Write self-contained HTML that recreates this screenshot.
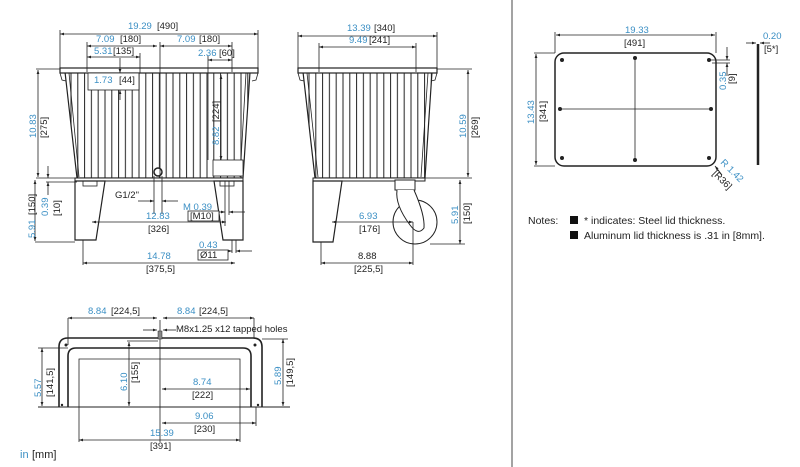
<!DOCTYPE html>
<html><head><meta charset="utf-8"><style>
html,body{margin:0;padding:0;background:#fff}
svg{display:block}
text{font-family:"Liberation Sans",sans-serif;font-size:9.5px;fill:#222}
.b{fill:#3b8fc4}
.l{stroke:#222;stroke-width:.8;fill:none}
.t{stroke:#222;stroke-width:1.6;fill:none}
</style></head><body>
<svg width="800" height="467" viewBox="0 0 800 467" xmlns="http://www.w3.org/2000/svg">
<defs>
<marker id="a" viewBox="0 0 10 10" refX="10" refY="5" markerWidth="7" markerHeight="5" orient="auto-start-reverse"><path d="M0,1.5 L10,5 L0,8.5z" fill="#222"/></marker>
<pattern id="rib" x="0" y="0" width="6.8" height="10" patternUnits="userSpaceOnUse"><line x1="3" y1="0" x2="3" y2="10" stroke="#222" stroke-width="1"/></pattern>
</defs>

<line x1="512" y1="0" x2="512" y2="467" stroke="#666" stroke-width="1.2"/>

<!-- ===== FRONT VIEW ===== -->
<g>
<path d="M65,72 L250,72 L243,178 L77,178 Z" fill="url(#rib)" stroke="#222" stroke-width="1.2"/>
<path d="M69,73 L79,177 M246,73 L240,177" class="l" stroke-width="1.2"/>
<rect x="60" y="68" width="198" height="5" fill="#fff" stroke="#222" stroke-width="1.2"/>
<path d="M60,73 L62,80 L66,81 M258,73 L256,80 L252,81" class="l"/>
<rect x="88" y="73" width="51" height="17" fill="#fff" stroke="#222" stroke-width=".8"/>
<text x="94" y="83" class="b">1.73</text><text x="119" y="83">[44]</text>
<rect x="213" y="160" width="30" height="16" fill="#fff" stroke="#222" stroke-width=".8"/>
<circle cx="158" cy="172" r="4" fill="#fff" stroke="#222" stroke-width="1.5"/>
<path d="M75,178 L243,178 L243,181 L75,181 Z" fill="#fff" stroke="#222" stroke-width="1"/>
<path d="M75,181 L105,181 L96,240 L75,240 Z" fill="#fff" stroke="#222" stroke-width="1.2"/>
<path d="M214,181 L243,181 L243,240 L223,240 Z" fill="#fff" stroke="#222" stroke-width="1.2"/>
<rect x="83" y="181" width="14" height="5" class="l"/><rect x="220" y="181" width="14" height="5" class="l"/>
<line x1="60" y1="34" x2="258" y2="34" class="l" marker-start="url(#a)" marker-end="url(#a)"/>
<line x1="60" y1="30" x2="60" y2="68" class="l"/><line x1="258" y1="30" x2="258" y2="68" class="l"/>
<text x="128" y="29" class="b">19.29</text><text x="157" y="29">[490]</text>
<line x1="87" y1="46" x2="157" y2="46" class="l" marker-start="url(#a)" marker-end="url(#a)"/>
<line x1="160" y1="46" x2="232" y2="46" class="l" marker-start="url(#a)" marker-end="url(#a)"/>
<line x1="87" y1="42" x2="87" y2="72" class="l"/><line x1="160" y1="42" x2="160" y2="178" class="l"/><line x1="232" y1="42" x2="232" y2="72" class="l"/>
<text x="96" y="42" class="b">7.09</text><text x="120" y="42">[180]</text>
<text x="177" y="42" class="b">7.09</text><text x="199" y="42">[180]</text>
<line x1="87" y1="57" x2="140" y2="57" class="l" marker-start="url(#a)" marker-end="url(#a)"/>
<line x1="140" y1="53" x2="140" y2="73" class="l"/>
<text x="94" y="54" class="b">5.31</text><text x="113" y="54">[135]</text>
<line x1="120" y1="58" x2="120" y2="73" class="l" marker-end="url(#a)"/>
<line x1="120" y1="100" x2="120" y2="90" class="l" marker-end="url(#a)"/>
<line x1="208" y1="60" x2="232" y2="60" class="l" marker-start="url(#a)" marker-end="url(#a)"/>
<line x1="208" y1="56" x2="208" y2="160" class="l"/>
<text x="198" y="56" class="b">2.36</text><text x="219" y="56">[60]</text>
<line x1="221" y1="75" x2="221" y2="160" class="l" marker-start="url(#a)" marker-end="url(#a)"/>
<text transform="translate(219,145) rotate(-90)" class="b">8.82</text><text transform="translate(219,122) rotate(-90)">[224]</text>
<line x1="36" y1="69" x2="60" y2="69" class="l"/>
<line x1="36" y1="178" x2="77" y2="178" class="l"/>
<line x1="35" y1="242" x2="75" y2="242" class="l"/>
<line x1="38" y1="70" x2="38" y2="177" class="l" marker-start="url(#a)" marker-end="url(#a)"/>
<text transform="translate(36,138) rotate(-90)" class="b">10.83</text><text transform="translate(47,138) rotate(-90)">[275]</text>
<line x1="35" y1="180" x2="35" y2="241" class="l" marker-start="url(#a)" marker-end="url(#a)"/>
<text transform="translate(35,238) rotate(-90)" class="b">5.91</text><text transform="translate(35,215) rotate(-90)">[150]</text>
<line x1="48" y1="166" x2="48" y2="178" class="l" marker-end="url(#a)"/>
<line x1="48" y1="195" x2="48" y2="182" class="l" marker-end="url(#a)"/>
<line x1="46" y1="182" x2="77" y2="182" class="l"/>
<text transform="translate(48,216) rotate(-90)" class="b">0.39</text><text transform="translate(60,216) rotate(-90)">[10]</text>
<line x1="154" y1="176" x2="154" y2="214" class="l"/><line x1="162" y1="176" x2="162" y2="214" class="l"/>
<line x1="138" y1="201" x2="154" y2="201" class="l" marker-end="url(#a)"/>
<line x1="178" y1="201" x2="162" y2="201" class="l" marker-end="url(#a)"/>
<text x="115" y="198">G1/2"</text>
<line x1="92" y1="222" x2="226" y2="222" class="l" marker-start="url(#a)" marker-end="url(#a)"/>
<text x="146" y="219" class="b">12.83</text><text x="148" y="232">[326]</text>
<line x1="225" y1="181" x2="225" y2="226" class="l"/><line x1="229" y1="181" x2="229" y2="215" class="l"/>
<line x1="215" y1="212" x2="225" y2="212" class="l" marker-end="url(#a)"/>
<line x1="245" y1="212" x2="229" y2="212" class="l" marker-end="url(#a)"/>
<text x="183" y="210" class="b">M 0.39</text>
<rect x="188" y="211" width="31" height="10" fill="#fff" stroke="#222" stroke-width=".8"/><text x="190" y="219">[M10]</text>
<line x1="232" y1="240" x2="232" y2="253" class="l"/><line x1="236" y1="240" x2="236" y2="253" class="l"/>
<line x1="222" y1="251" x2="232" y2="251" class="l" marker-end="url(#a)"/>
<line x1="252" y1="251" x2="236" y2="251" class="l" marker-end="url(#a)"/>
<text x="199" y="248" class="b">0.43</text>
<rect x="198" y="250" width="30" height="10" fill="#fff" stroke="#222" stroke-width=".8"/><text x="200" y="258">Ø11</text>
<line x1="83" y1="240" x2="83" y2="265" class="l"/>
<line x1="83" y1="263" x2="235" y2="263" class="l" marker-start="url(#a)" marker-end="url(#a)"/>
<text x="147" y="259" class="b">14.78</text><text x="146" y="272">[375,5]</text>
</g>

<!-- ===== SIDE VIEW ===== -->
<g>
<path d="M303,72 L432,72 L425,178 L315,178 Z" fill="url(#rib)" stroke="#222" stroke-width="1.2"/>
<path d="M307,73 L318,177 M428,73 L421,177" class="l" stroke-width="1.2"/>
<rect x="298" y="68" width="139" height="5" fill="#fff" stroke="#222" stroke-width="1.2"/>
<path d="M298,73 L300,80 L304,81 M437,73 L435,80 L431,81" class="l"/>
<rect x="313" y="178" width="112" height="3" fill="#fff" stroke="#222" stroke-width="1"/>
<path d="M313,181 L342,181 L333,242 L313,242 Z" fill="#fff" stroke="#222" stroke-width="1.2"/>
<rect x="395" y="180" width="20" height="10" fill="#fff" stroke="#222" stroke-width="1"/>
<circle cx="415" cy="222" r="22" fill="#fff" stroke="#222" stroke-width="1"/>
<path d="M397,190 Q395,205 410,225 Q418,236 424,228 Q425,215 414,190" fill="#fff" stroke="#222" stroke-width="1"/>
<line x1="298" y1="36" x2="437" y2="36" class="l" marker-start="url(#a)" marker-end="url(#a)"/>
<line x1="298" y1="32" x2="298" y2="68" class="l"/><line x1="437" y1="32" x2="437" y2="68" class="l"/>
<text x="347" y="31" class="b">13.39</text><text x="374" y="31">[340]</text>
<line x1="319" y1="47" x2="416" y2="47" class="l" marker-start="url(#a)" marker-end="url(#a)"/>
<line x1="319" y1="43" x2="319" y2="72" class="l"/><line x1="416" y1="43" x2="416" y2="72" class="l"/>
<text x="349" y="43" class="b">9.49</text><text x="369" y="43">[241]</text>
<line x1="437" y1="69" x2="472" y2="69" class="l"/><line x1="425" y1="178" x2="472" y2="178" class="l"/>
<line x1="468" y1="70" x2="468" y2="177" class="l" marker-start="url(#a)" marker-end="url(#a)"/>
<text transform="translate(466,138) rotate(-90)" class="b">10.59</text><text transform="translate(478,138) rotate(-90)">[269]</text>
<line x1="460" y1="180" x2="460" y2="244" class="l" marker-start="url(#a)" marker-end="url(#a)"/>
<line x1="430" y1="244" x2="465" y2="244" class="l"/>
<text transform="translate(458,224) rotate(-90)" class="b">5.91</text><text transform="translate(470,224) rotate(-90)">[150]</text>
<line x1="332" y1="222" x2="413" y2="222" class="l" marker-start="url(#a)" marker-end="url(#a)"/>
<text x="359" y="219" class="b">6.93</text><text x="359" y="232">[176]</text>
<line x1="321" y1="242" x2="321" y2="265" class="l"/><line x1="413" y1="222" x2="413" y2="265" class="l"/>
<line x1="321" y1="263" x2="413" y2="263" class="l" marker-start="url(#a)" marker-end="url(#a)"/>
<text x="358" y="259" fill="#777">8.88</text><text x="354" y="272">[225,5]</text>
</g>

<!-- ===== BOTTOM VIEW ===== -->
<g>
<path d="M59,407 L59,347 Q59,338 68,338 L253,338 Q262,338 262,347 L262,407" class="t"/>
<path d="M68,407 L68,356 Q68,348 76,348 L243,348 Q251,348 251,356 L251,407" class="t"/>
<path d="M79,407 L79,359 L240,359 L240,407" class="l" stroke-width="1"/>
<line x1="38" y1="407" x2="290" y2="407" stroke="#222" stroke-width="1"/>
<circle cx="66" cy="345" r="1.5" fill="#222"/><circle cx="255" cy="345" r="1.5" fill="#222"/>
<circle cx="62" cy="405" r="1.2" fill="#222"/><circle cx="258" cy="405" r="1.2" fill="#222"/>
<line x1="160" y1="320" x2="160" y2="442" class="l"/>
<rect x="158" y="331" width="4" height="8" fill="#888" stroke="#222" stroke-width=".5"/>
<line x1="68" y1="318" x2="68" y2="345" class="l"/><line x1="254" y1="318" x2="254" y2="338" class="l"/>
<line x1="68" y1="318" x2="157" y2="318" class="l" marker-start="url(#a)" marker-end="url(#a)"/>
<line x1="163" y1="318" x2="254" y2="318" class="l" marker-start="url(#a)" marker-end="url(#a)"/>
<text x="88" y="314" class="b">8.84</text><text x="111" y="314">[224,5]</text>
<text x="177" y="314" class="b">8.84</text><text x="199" y="314">[224,5]</text>
<line x1="143" y1="330" x2="157" y2="330" class="l" marker-end="url(#a)"/>
<line x1="176" y1="330" x2="163" y2="330" class="l" marker-end="url(#a)"/>
<text x="176" y="332">M8x1.25 x12 tapped holes</text>
<line x1="127" y1="341" x2="158" y2="341" class="l"/>
<line x1="129" y1="342" x2="129" y2="406" class="l" marker-start="url(#a)" marker-end="url(#a)"/>
<text transform="translate(127,391) rotate(-90)" class="b">6.10</text><text transform="translate(138,383) rotate(-90)">[155]</text>
<line x1="42" y1="348" x2="42" y2="406" class="l" marker-start="url(#a)" marker-end="url(#a)"/>
<line x1="38" y1="348" x2="68" y2="348" class="l"/>
<text transform="translate(41,397) rotate(-90)" class="b">5.57</text><text transform="translate(53,397) rotate(-90)">[141,5]</text>
<line x1="283" y1="339" x2="283" y2="406" class="l" marker-start="url(#a)" marker-end="url(#a)"/>
<line x1="262" y1="339" x2="288" y2="339" class="l"/>
<text transform="translate(281,385) rotate(-90)" class="b">5.89</text><text transform="translate(293,387) rotate(-90)">[149,5]</text>
<line x1="162" y1="389" x2="250" y2="389" class="l" marker-start="url(#a)" marker-end="url(#a)"/>
<text x="193" y="385" class="b">8.74</text><text x="192" y="398">[222]</text>
<line x1="256" y1="407" x2="256" y2="426" class="l"/>
<line x1="162" y1="423" x2="256" y2="423" class="l" marker-start="url(#a)" marker-end="url(#a)"/>
<text x="195" y="419" class="b">9.06</text><text x="194" y="432">[230]</text>
<line x1="79" y1="407" x2="79" y2="442" class="l"/><line x1="240" y1="407" x2="240" y2="442" class="l"/>
<line x1="79" y1="440" x2="240" y2="440" class="l" marker-start="url(#a)" marker-end="url(#a)"/>
<text x="150" y="436" class="b">15.39</text><text x="150" y="449">[391]</text>
<text x="20" y="458" class="b" style="font-size:11px">in</text><text x="32" y="458" style="font-size:11px">[mm]</text>
</g>

<!-- ===== LID ===== -->
<g>
<rect x="555" y="53" width="161" height="113" rx="9" fill="#fff" stroke="#222" stroke-width="1.5"/>
<line x1="559" y1="109" x2="712" y2="109" class="l"/><line x1="635" y1="57" x2="635" y2="162" class="l"/>
<g fill="#222"><circle cx="562" cy="60" r="2"/><circle cx="635" cy="58" r="2"/><circle cx="709" cy="60" r="2"/>
<circle cx="560" cy="109" r="2"/><circle cx="711" cy="109" r="2"/>
<circle cx="562" cy="158" r="2"/><circle cx="635" cy="160" r="2"/><circle cx="709" cy="158" r="2"/></g>
<line x1="555" y1="32" x2="555" y2="53" class="l"/><line x1="716" y1="32" x2="716" y2="53" class="l"/>
<line x1="556" y1="35" x2="715" y2="35" class="l" marker-start="url(#a)" marker-end="url(#a)"/>
<text x="625" y="33" class="b">19.33</text><text x="624" y="46">[491]</text>
<line x1="534" y1="53" x2="555" y2="53" class="l"/><line x1="534" y1="166" x2="555" y2="166" class="l"/>
<line x1="536" y1="54" x2="536" y2="165" class="l" marker-start="url(#a)" marker-end="url(#a)"/>
<text transform="translate(534,124) rotate(-90)" class="b">13.43</text><text transform="translate(546,122) rotate(-90)">[341]</text>
<line x1="710" y1="60" x2="730" y2="60" class="l"/><line x1="712" y1="63" x2="730" y2="63" class="l"/>
<line x1="727" y1="47" x2="727" y2="60" class="l" marker-end="url(#a)"/>
<line x1="727" y1="76" x2="727" y2="63" class="l" marker-end="url(#a)"/>
<text transform="translate(726,90) rotate(-90)" class="b">0.35</text><text transform="translate(735,84) rotate(-90)">[9]</text>
<line x1="715" y1="166" x2="722" y2="175" class="l" marker-start="url(#a)"/>
<text transform="translate(720,163) rotate(45)" class="b">R 1.42</text><text transform="translate(712,174) rotate(45)">[R36]</text>
<line x1="758" y1="44" x2="758" y2="165" stroke="#222" stroke-width="2.5"/>
<line x1="746" y1="43" x2="756" y2="43" class="l" marker-end="url(#a)"/>
<line x1="770" y1="43" x2="760" y2="43" class="l" marker-end="url(#a)"/>
<text x="763" y="39" class="b">0.20</text><text x="764" y="52">[5*]</text>
<text x="528" y="224" style="font-size:10.5px">Notes:</text>
<rect x="570" y="216" width="8" height="8" fill="#111"/><text x="584" y="224" style="font-size:10.5px">* indicates: Steel lid thickness.</text>
<rect x="570" y="231" width="8" height="8" fill="#111"/><text x="584" y="239" style="font-size:10.5px">Aluminum lid thickness is .31 in [8mm].</text>
</g>
</svg>
</body></html>
